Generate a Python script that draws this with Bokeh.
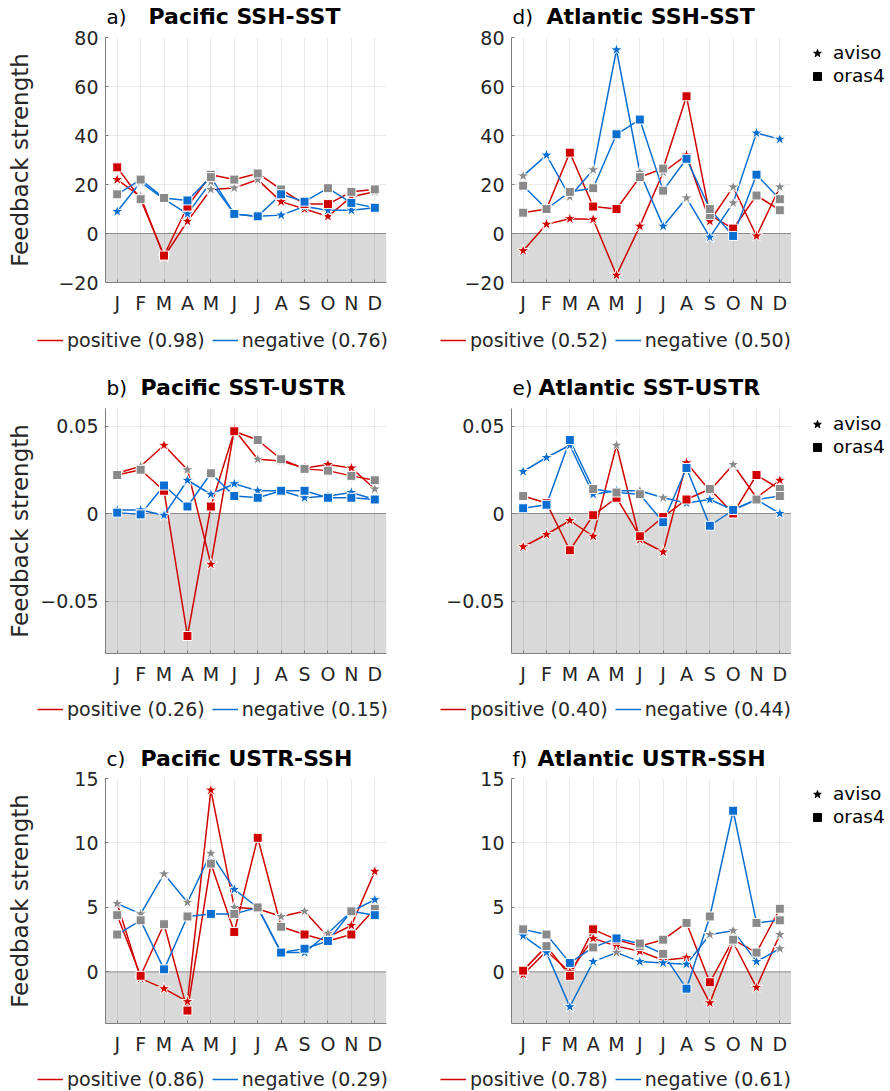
import math
from bokeh.plotting import figure
from bokeh.models import (Range1d, FixedTicker, BoxAnnotation, Span, Label,
                          Legend, LegendItem, ColumnDataSource, Plot)
from bokeh.layouts import column, row
from bokeh.embed import file_html
from bokeh.resources import INLINE

# ---------------- data ----------------
months = ["J", "F", "M", "A", "M", "J", "J", "A", "S", "O", "N", "D"]
month_num = list(range(1, 13))

# a) Pacific SSH-SST
a_pos_aviso = [22, 15, -9.5, 5, 18, 18.6, 22, 13, 10, 7, 15, 17]
a_pos_aviso_sig = [1, 0, 1, 1, 0, 0, 0, 1, 1, 1, 1, 0]
a_pos_oras4 = [27, 14, -9, 11, 24, 22, 24.5, 18, 12, 12, 17, 18]
a_pos_oras4_sig = [1, 0, 1, 1, 0, 0, 0, 0, 1, 1, 0, 0]
a_neg_aviso = [9, 21, 14, 8, 21, 8, 7, 7.5, 11, 9.5, 9.5, 10.5]
a_neg_aviso_sig = [1, 0, 0, 1, 0, 1, 1, 1, 1, 1, 1, 1]
a_neg_oras4 = [16, 22, 14.5, 13.5, 23, 8, 7, 16, 13, 18.5, 12.5, 10.5]
a_neg_oras4_sig = [0, 0, 0, 1, 0, 1, 1, 1, 1, 0, 1, 1]

# d) Atlantic SSH-SST
d_pos_aviso = [-7, 3.8, 6, 5.8, -17, 3, 25, 32, 5, 19, -1, 19]
d_pos_aviso_sig = [1, 1, 1, 1, 1, 1, 0, 1, 1, 0, 1, 0]
d_pos_oras4 = [8.5, 10, 33, 11, 10, 23, 26.5, 56, 7.5, 2, 15.5, 9.5]
d_pos_oras4_sig = [0, 0, 1, 1, 1, 0, 0, 1, 0, 1, 0, 0]
d_neg_aviso = [23.5, 32, 15, 26, 75, 25, 3, 14.5, -1.5, 12.5, 41, 38.5]
d_neg_aviso_sig = [0, 1, 0, 0, 1, 0, 1, 0, 1, 0, 1, 1]
d_neg_oras4 = [19.5, 10, 17, 18.5, 40.5, 46.5, 17.5, 30.5, 10, -1, 24, 14]
d_neg_oras4_sig = [0, 0, 0, 0, 1, 1, 0, 1, 0, 1, 1, 0]

# b) Pacific SST-USTR
b_pos_aviso = [0.023, 0.027, 0.039, 0.025, -0.029, 0.048, 0.031, 0.030, 0.026, 0.028, 0.026, 0.014]
b_pos_aviso_sig = [0, 0, 1, 0, 1, 1, 0, 0, 1, 1, 1, 0]
b_pos_oras4 = [0.022, 0.025, 0.013, -0.070, 0.004, 0.047, 0.042, 0.031, 0.0255, 0.0245, 0.0215, 0.019]
b_pos_oras4_sig = [0, 0, 1, 1, 1, 1, 0, 0, 0, 0, 0, 0]
b_neg_aviso = [0.002, 0.002, -0.001, 0.019, 0.011, 0.017, 0.013, 0.013, 0.009, 0.010, 0.012, 0.008]
b_neg_aviso_sig = [1, 1, 1, 1, 1, 1, 1, 1, 1, 1, 1, 1]
b_neg_oras4 = [0.0005, -0.0005, 0.016, 0.004, 0.023, 0.010, 0.009, 0.013, 0.013, 0.009, 0.009, 0.008]
b_neg_oras4_sig = [1, 1, 1, 1, 0, 1, 1, 1, 1, 1, 1, 1]

# e) Atlantic SST-USTR
e_pos_aviso = [-0.019, -0.012, -0.004, -0.013, 0.039, -0.015, -0.022, 0.029, 0.013, 0.028, 0.009, 0.019]
e_pos_aviso_sig = [1, 1, 1, 1, 0, 1, 1, 1, 1, 0, 1, 1]
e_pos_oras4 = [0.010, 0.006, -0.021, -0.001, 0.009, -0.013, -0.002, 0.008, 0.014, 0.000, 0.022, 0.014]
e_pos_oras4_sig = [0, 1, 1, 1, 1, 1, 1, 1, 0, 1, 1, 0]
e_neg_aviso = [0.024, 0.032, 0.039, 0.011, 0.013, 0.013, 0.009, 0.006, 0.008, 0.002, 0.008, 0.000]
e_neg_aviso_sig = [1, 1, 1, 1, 1, 0, 0, 1, 1, 1, 1, 1]
e_neg_oras4 = [0.003, 0.005, 0.042, 0.014, 0.012, 0.011, -0.005, 0.026, -0.007, 0.002, 0.008, 0.010]
e_neg_oras4_sig = [1, 1, 1, 0, 0, 0, 1, 1, 1, 1, 0, 0]

# c) Pacific USTR-SSH
c_pos_aviso = [5.3, -0.5, -1.3, -2.3, 14.1, 5.0, 4.9, 4.3, 4.7, 2.7, 3.6, 7.8]
c_pos_aviso_sig = [0, 1, 1, 1, 1, 0, 0, 0, 0, 0, 1, 1]
c_pos_oras4 = [4.4, -0.3, 3.7, -3.0, 8.4, 3.1, 10.4, 3.5, 2.9, 2.4, 2.9, 4.9]
c_pos_oras4_sig = [0, 1, 0, 1, 0, 1, 1, 0, 1, 1, 1, 0]
c_neg_aviso = [5.3, 4.5, 7.6, 5.4, 9.2, 6.4, 5.0, 1.5, 1.5, 3.0, 4.7, 5.6]
c_neg_aviso_sig = [0, 0, 0, 0, 0, 1, 0, 1, 1, 0, 0, 1]
c_neg_oras4 = [2.9, 4.0, 0.2, 4.3, 4.5, 4.5, 5.0, 1.5, 1.8, 2.4, 4.7, 4.4]
c_neg_oras4_sig = [0, 0, 1, 0, 1, 0, 0, 1, 1, 1, 0, 1]

# f) Atlantic USTR-SSH
f_pos_aviso = [-0.2, 1.6, 0.0, 2.6, 2.0, 1.6, 0.9, 1.1, -2.4, 2.3, -1.2, 2.9]
f_pos_aviso_sig = [1, 0, 1, 1, 1, 1, 1, 1, 1, 0, 1, 0]
f_pos_oras4 = [0.1, 2.0, -0.3, 3.3, 2.5, 2.0, 2.5, 3.8, -0.8, 2.5, 1.5, 4.9]
f_pos_oras4_sig = [1, 0, 1, 1, 1, 0, 0, 0, 1, 0, 0, 0]
f_neg_aviso = [2.8, 1.5, -2.7, 0.8, 1.5, 0.8, 0.7, 0.6, 2.9, 3.2, 0.8, 1.8]
f_neg_aviso_sig = [1, 1, 1, 1, 0, 1, 1, 1, 0, 0, 1, 0]
f_neg_oras4 = [3.3, 2.9, 0.7, 1.9, 2.6, 2.2, 1.4, -1.3, 4.3, 12.5, 3.8, 4.0]
f_neg_oras4_sig = [0, 0, 1, 0, 1, 0, 0, 1, 0, 1, 0, 0]

titles = ["Pacific SSH-SST", "Pacific SST-USTR", "Pacific USTR-SSH",
          "Atlantic SSH-SST", "Atlantic SST-USTR", "Atlantic USTR-SSH"]
letters = ["a)", "b)", "c)", "d)", "e)", "f)"]
pos_corr = ["0.98", "0.26", "0.86", "0.52", "0.40", "0.78"]
neg_corr = ["0.76", "0.15", "0.29", "0.50", "0.44", "0.61"]

ssh_sst_ticks = [-20, 0, 20, 40, 60, 80]
sst_ustr_ticks = [-0.05, 0, 0.05]
ustr_ssh_ticks = [0, 5, 10, 15]

# ---------------- style ----------------
RED = "#D00000"
BLUE = "#0A6ED1"
GRAY = "#8A8A8A"
FONT = "DejaVu Sans"
TXT = "#262626"
NAN = float("nan")
NOALIGN = {"frame_align": False} if "frame_align" in Plot.properties() else {}


def fmt(t):
    return ("%g" % t).replace("-", "\u2212")


def blank_fig(w, h):
    f = figure(width=w, height=h, x_range=Range1d(0, 1), y_range=Range1d(0, 1),
               output_backend="svg", toolbar_location=None,
               x_axis_type=None, y_axis_type=None,
               min_border_left=0, min_border_right=0,
               min_border_top=0, min_border_bottom=0, **NOALIGN)
    f.outline_line_color = None
    for g in f.grid:
        g.visible = False
    return f


def make_panel(idx, data, ylim, ticks, left, rowi, title_off, ylab_standoff):
    W = 434 if left else 451
    fl = 101 if left else 73         # frame left inside the panel
    fw = 281 if left else 280        # frame width
    frame_h = 245
    top_b, bot_b = 10, 34
    main_h = top_b + frame_h + bot_b
    title_h = 26 if rowi == 2 else 27
    title_y = 10 if rowi == 2 else 11
    leg_h = 34 if rowi == 2 else 55
    leg_vy = (20, 22, 1)[rowi]
    main_w = W if left else fl + fw

    p = figure(width=main_w, height=main_h, x_range=Range1d(0.5, 12.5),
               y_range=Range1d(*ylim), output_backend="svg", toolbar_location=None,
               min_border_left=fl, min_border_right=main_w - fl - fw,
               min_border_top=top_b, min_border_bottom=bot_b, **NOALIGN)
    p.outline_line_color = None

    p.add_layout(BoxAnnotation(top=0, fill_color="#D9D9D9", fill_alpha=1.0,
                               line_alpha=0, level="image"))
    p.add_layout(Span(location=0, dimension="width", line_color="#8C8C8C",
                      line_width=1, level="underlay"))

    p.xaxis.ticker = FixedTicker(ticks=month_num)
    p.xaxis.major_label_overrides = {m: lab for m, lab in zip(month_num, months)}
    p.yaxis.ticker = FixedTicker(ticks=ticks)
    p.yaxis.major_label_overrides = {t: fmt(t) for t in ticks}
    for ax in (p.xaxis[0], p.yaxis[0]):
        ax.axis_line_color = "#7F7F7F"
        ax.major_tick_line_color = "#7F7F7F"
        ax.major_tick_in = 3
        ax.major_tick_out = 0
        ax.minor_tick_line_color = None
        ax.major_label_text_font = FONT
        ax.major_label_text_font_size = "19px"
        ax.major_label_text_color = TXT
    p.xaxis.major_label_standoff = 9
    p.yaxis.major_label_standoff = 7
    if left:
        p.yaxis.axis_label = "Feedback strength"
        p.yaxis.axis_label_text_font = FONT
        p.yaxis.axis_label_text_font_size = "23px"
        p.yaxis.axis_label_text_font_style = "normal"
        p.yaxis.axis_label_text_color = TXT
        p.yaxis.axis_label_standoff = ylab_standoff
    p.xgrid.ticker = FixedTicker(ticks=month_num)
    p.ygrid.ticker = FixedTicker(ticks=ticks)
    for g in (p.xgrid[0], p.ygrid[0]):
        g.grid_line_color = "black"
        g.grid_line_alpha = 0.08

    for key, col in (("pos_aviso", RED), ("pos_oras4", RED),
                     ("neg_aviso", BLUE), ("neg_oras4", BLUE)):
        p.line(month_num, data[key][0], line_color=col, line_width=1.5)

    for key, col, marker, size in (("pos_aviso", RED, "star", 13),
                                   ("neg_aviso", BLUE, "star", 13),
                                   ("pos_oras4", RED, "square", 9),
                                   ("neg_oras4", BLUE, "square", 9)):
        vals, sig = data[key]
        src = ColumnDataSource(dict(x=month_num, y=vals,
                                    fc=[col if s else GRAY for s in sig]))
        p.scatter("x", "y", source=src, marker=marker, size=size,
                  fill_color="fc", line_color="white", line_width=1)

    # ---- title strip ----
    t = blank_fig(W, title_h)
    t.add_layout(Label(x=fl + 1, y=title_y, x_units="screen", y_units="screen",
                       text=letters[idx], text_font=FONT, text_font_size="20px",
                       text_color="black", text_baseline="middle", text_align="left"))
    t.add_layout(Label(x=fl + title_off, y=title_y, x_units="screen", y_units="screen",
                       text=titles[idx], text_font=FONT, text_font_size="22px",
                       text_font_style="bold", text_color="black",
                       text_baseline="middle", text_align="left"))

    # ---- legend strip ----
    lg = blank_fig(W, leg_h)
    r_pos = lg.line([NAN, NAN], [NAN, NAN], line_color=RED, line_width=1.5)
    r_neg = lg.line([NAN, NAN], [NAN, NAN], line_color=BLUE, line_width=1.5)
    lg.add_layout(Legend(items=[LegendItem(label="positive (%s)" % pos_corr[idx], renderers=[r_pos]),
                                LegendItem(label="negative (%s)" % neg_corr[idx], renderers=[r_neg])],
                         orientation="horizontal", location=(33 if left else 2, leg_vy),
                         glyph_width=26, glyph_height=22, label_height=22,
                         label_standoff=4, spacing=7, padding=0, margin=0,
                         label_text_font=FONT, label_text_font_size="19px",
                         label_text_color=TXT, border_line_alpha=0,
                         background_fill_alpha=0))

    if left:
        return column(t, p, lg)

    # ---- product legend strip (right-hand panels) ----
    pr = blank_fig(W - main_w, main_h)
    r_star = pr.scatter([NAN], [NAN], marker="star", size=9, color="black")
    r_sq = pr.scatter([NAN], [NAN], marker="square", size=8, color="black")
    pr.add_layout(Legend(items=[LegendItem(label="aviso", renderers=[r_star]),
                                LegendItem(label="oras4", renderers=[r_sq])],
                         orientation="vertical", location=(16, main_h - 60),
                         glyph_width=20, glyph_height=22, label_height=23,
                         label_standoff=6, spacing=0, padding=0, margin=0,
                         label_text_font=FONT, label_text_font_size="18.5px",
                         label_text_color="black", border_line_alpha=0,
                         background_fill_alpha=0))
    return column(t, row(p, pr), lg)


def dd(pa, pas, po, pos_, na, nas, no, nos):
    return {"pos_aviso": (pa, pas), "pos_oras4": (po, pos_),
            "neg_aviso": (na, nas), "neg_oras4": (no, nos)}


pa = make_panel(0, dd(a_pos_aviso, a_pos_aviso_sig, a_pos_oras4, a_pos_oras4_sig,
                      a_neg_aviso, a_neg_aviso_sig, a_neg_oras4, a_neg_oras4_sig),
                (-20, 80), ssh_sst_ticks, True, 0, 43, 22)
pb = make_panel(1, dd(b_pos_aviso, b_pos_aviso_sig, b_pos_oras4, b_pos_oras4_sig,
                      b_neg_aviso, b_neg_aviso_sig, b_neg_oras4, b_neg_oras4_sig),
                (-0.08, 0.06), sst_ustr_ticks, True, 1, 35, 4)
pc = make_panel(2, dd(c_pos_aviso, c_pos_aviso_sig, c_pos_oras4, c_pos_oras4_sig,
                      c_neg_aviso, c_neg_aviso_sig, c_neg_oras4, c_neg_oras4_sig),
                (-4, 15), ustr_ssh_ticks, True, 2, 35, 38)
pd_ = make_panel(3, dd(d_pos_aviso, d_pos_aviso_sig, d_pos_oras4, d_pos_oras4_sig,
                       d_neg_aviso, d_neg_aviso_sig, d_neg_oras4, d_neg_oras4_sig),
                 (-20, 80), ssh_sst_ticks, False, 0, 35, 0)
pe = make_panel(4, dd(e_pos_aviso, e_pos_aviso_sig, e_pos_oras4, e_pos_oras4_sig,
                      e_neg_aviso, e_neg_aviso_sig, e_neg_oras4, e_neg_oras4_sig),
                (-0.08, 0.06), sst_ustr_ticks, False, 1, 27, 0)
pf = make_panel(5, dd(f_pos_aviso, f_pos_aviso_sig, f_pos_oras4, f_pos_oras4_sig,
                      f_neg_aviso, f_neg_aviso_sig, f_neg_oras4, f_neg_oras4_sig),
                (-4, 15), ustr_ssh_ticks, False, 2, 26, 0)

layout = column(row(pa, pd_), row(pb, pe), row(pc, pf), margin=(0, 0, 0, 4))
open("out.html", "w").write(file_html(layout, INLINE))
